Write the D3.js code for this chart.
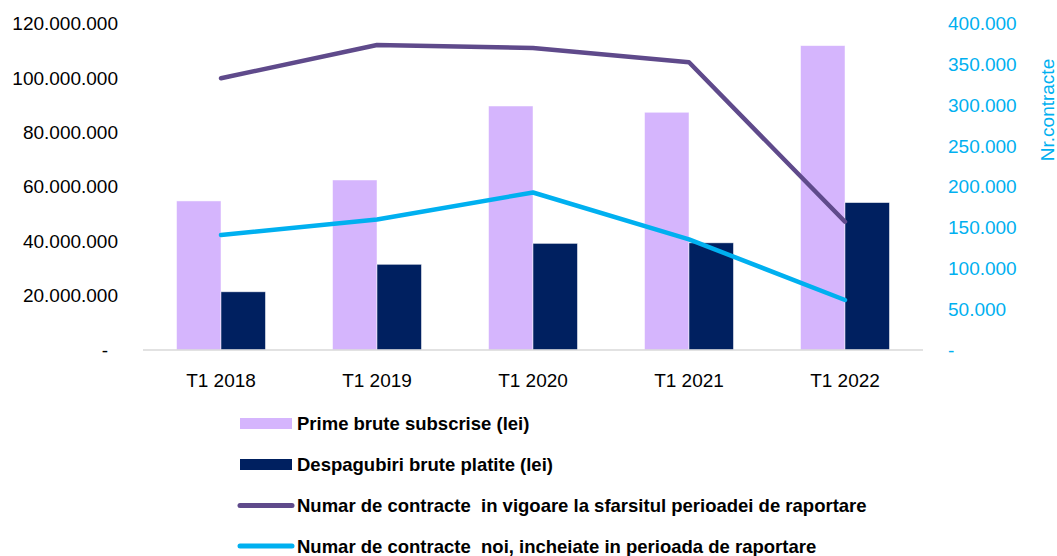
<!DOCTYPE html>
<html>
<head>
<meta charset="utf-8">
<script src="https://cdn.jsdelivr.net/npm/d3@7"></script>
<style>
  body { margin: 0; background: #fff; }
  svg { font-family: "Liberation Sans", Arial, sans-serif; }
  .legend text { font-weight: bold; white-space: pre; }
</style>
</head>
<body>
<div id="chart"></div>
<script>
const categories = ['T1 2018', 'T1 2019', 'T1 2020', 'T1 2021', 'T1 2022'];
const primeBrute = [54800000, 62500000, 89700000, 87400000, 111900000];
const despagubiri = [21400000, 31500000, 39200000, 39400000, 54200000];
const contracteVigoare = [333000, 373800, 370000, 352600, 157200];
const contracteNoi = [140900, 160000, 193000, 135600, 61300];
const leftTicks = [0, 20000000, 40000000, 60000000, 80000000, 100000000, 120000000];
const rightTicks = [0, 50000, 100000, 150000, 200000, 250000, 300000, 350000, 400000];

const barNames = ['Prime brute subscrise (lei)', 'Despagubiri brute platite (lei)'];
const lineNames = ['Numar de contracte  in vigoare la sfarsitul perioadei de raportare',
  'Numar de contracte  noi, incheiate in perioada de raportare'];
const barColors = ['#D5B5FD', '#002060'];
const lineColors = ['#5F4A8B', '#00B0F0'];

const width = 1057, height = 556;
const svg = d3.select('#chart')
  .append('svg')
  .attr('width', width)
  .attr('height', height);

const ro = d3.formatLocale({ decimal: ',', thousands: '.', grouping: [3], currency: ['', ''] });
const fmt = v => v === 0 ? '-' : ro.format(',.0f')(v);

const x = d3.scaleBand()
  .domain(categories)
  .range([143, 923])
  .paddingInner(0.43)
  .paddingOuter(0.215);

const xSub = d3.scaleBand()
  .domain([0, 1])
  .range([0, x.bandwidth()]);

const yLeft = d3.scaleLinear().domain([0, 120000000]).range([350, 23.6]);
const yRight = d3.scaleLinear().domain([0, 400000]).range([350, 23.6]);

// bars
const barData = categories.map((c, i) => [
  { cat: c, s: 0, v: primeBrute[i] },
  { cat: c, s: 1, v: despagubiri[i] }
]).flat();

svg.append('g')
  .selectAll('rect')
  .data(barData)
  .enter()
  .append('rect')
  .attr('x', d => x(d.cat) + xSub(d.s))
  .attr('y', d => yLeft(d.v))
  .attr('width', xSub.bandwidth())
  .attr('height', d => yLeft(0) - yLeft(d.v))
  .attr('fill', d => barColors[d.s])
  .attr('stroke', '#fff')
  .attr('stroke-opacity', 0.6)
  .attr('stroke-width', 0.8);

// baseline
svg.append('line')
  .attr('x1', 143)
  .attr('x2', 923)
  .attr('y1', yLeft(0))
  .attr('y2', yLeft(0))
  .attr('stroke', '#D9D9D9')
  .attr('stroke-width', 1.5);

// lines
const line = d3.line()
  .x((d, i) => x(categories[i]) + x.bandwidth() / 2)
  .y(d => yRight(d));

[contracteVigoare, contracteNoi].forEach((series, k) => {
  svg.append('path')
    .datum(series)
    .attr('d', line)
    .attr('fill', 'none')
    .attr('stroke', lineColors[k])
    .attr('stroke-width', 4.5)
    .attr('stroke-linecap', 'round')
    .attr('stroke-linejoin', 'round');
});

// axes
const leftAxis = svg.append('g')
  .attr('transform', 'translate(118,0)')
  .call(d3.axisLeft(yLeft).tickValues(leftTicks).tickFormat(fmt).tickSize(0).tickPadding(0));
leftAxis.select('.domain').remove();
leftAxis.selectAll('text')
  .attr('font-size', 19)
  .attr('font-family', '"Liberation Sans", Arial, sans-serif')
  .attr('fill', '#000')
  .attr('dx', d => d === 0 ? -10 : 0);

const rightAxis = svg.append('g')
  .attr('transform', 'translate(948,0)')
  .call(d3.axisRight(yRight).tickValues(rightTicks).tickFormat(fmt).tickSize(0).tickPadding(0));
rightAxis.select('.domain').remove();
rightAxis.selectAll('text')
  .attr('font-size', 19)
  .attr('font-family', '"Liberation Sans", Arial, sans-serif')
  .attr('fill', '#00B0F0');

svg.append('text')
  .attr('transform', 'translate(1054,110) rotate(-90)')
  .attr('text-anchor', 'middle')
  .attr('font-size', 19)
  .attr('fill', '#00B0F0')
  .text('Nr.contracte');

const xAxis = svg.append('g')
  .attr('transform', 'translate(0,' + yLeft(0) + ')')
  .call(d3.axisBottom(x).tickSize(0).tickPadding(0));
xAxis.select('.domain').remove();
xAxis.selectAll('text')
  .attr('font-size', 19)
  .attr('font-family', '"Liberation Sans", Arial, sans-serif')
  .attr('fill', '#000')
  .attr('dy', 0)
  .attr('y', 37);

// legend
const legend = svg.append('g').attr('class', 'legend');
const legendY = [423.5, 464.5, 505.5, 546];

barNames.forEach((name, i) => {
  legend.append('rect')
    .attr('x', 240)
    .attr('y', legendY[i] - 5.5)
    .attr('width', 52)
    .attr('height', 11)
    .attr('fill', barColors[i]);
  legend.append('text')
    .attr('x', 297)
    .attr('y', legendY[i])
    .attr('dy', '0.36em')
    .attr('font-size', 18.5)
    .text(name);
});

lineNames.forEach((name, i) => {
  const yy = legendY[i + 2];
  legend.append('line')
    .attr('x1', 240)
    .attr('x2', 292)
    .attr('y1', yy)
    .attr('y2', yy)
    .attr('stroke', lineColors[i])
    .attr('stroke-width', 5)
    .attr('stroke-linecap', 'round');
  legend.append('text')
    .attr('x', 297)
    .attr('y', yy)
    .attr('dy', '0.36em')
    .attr('font-size', 18.5)
    .text(name);
});
</script>
</body>
</html>
